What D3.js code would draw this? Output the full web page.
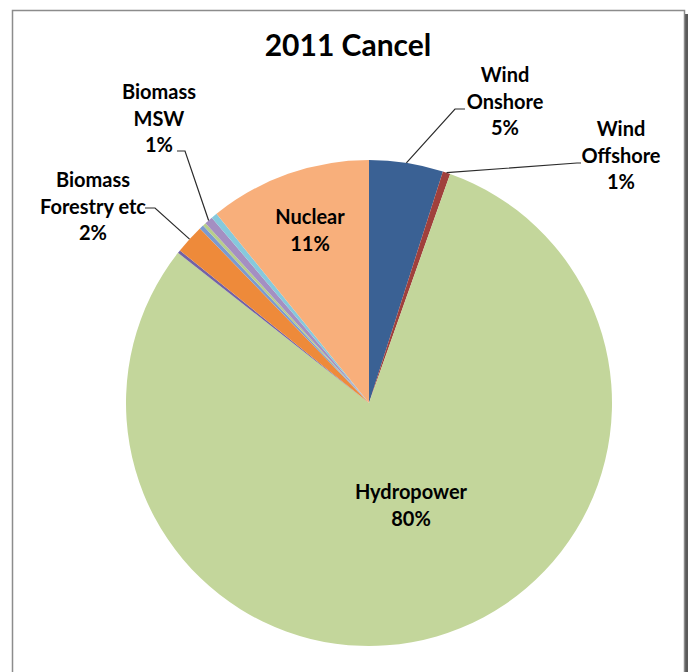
<!DOCTYPE html>
<html><head><meta charset="utf-8">
<script src="https://cdn.jsdelivr.net/npm/d3@7"></script>
<style>
html,body{margin:0;padding:0;background:#fff;}
svg{display:block;}
text{font-family:Lato,"Open Sans",sans-serif;font-weight:bold;fill:#000;}
</style></head>
<body>
<script>
// Data (share of total, %) in Excel clockwise order from 12 o'clock
const categories = ["Wind Onshore","Wind Offshore","Hydropower","Solar PV","Biomass Forestry etc","Biomass Landfill Gas","Biomass Sewage Gas","Biomass MSW","Biomass Co-firing","Nuclear"];
const values = [4.92, 0.5, 80.2, 0.2, 1.95, 0.28, 0.22, 0.55, 0.4, 10.8];
const colors = ["#3A6194","#A0403C","#C3D69B","#7262A6","#EE8A3A","#7C9AD0","#B7CE8A","#A48FC2","#86C9DC","#F8AF7B"];
const labelText = ["Wind|Onshore|5%","Wind|Offshore|1%","Hydropower|80%",null,"Biomass|Forestry etc|2%",null,null,"Biomass|MSW|1%",null,"Nuclear|11%"];
const title = "2011 Cancel";

const W = 688, H = 672;
const svg = d3.select("body").append("svg").attr("width", W).attr("height", H);

// frame + shadow
svg.append("rect").attr("x",685).attr("y",14).attr("width",3).attr("height",H).attr("fill","#5a5a5a");
svg.append("rect").attr("x",12.5).attr("y",10.5).attr("width",672).attr("height",H+20)
  .attr("fill","#fff").attr("stroke","#8c8c8c").attr("stroke-width",1.5);

svg.append("text").attr("x",348).attr("y",56).attr("text-anchor","middle")
  .style("font-size","30px").text(title);

const cx = 369, cy = 403, R = 243;
const g = svg.append("g").attr("transform",`translate(${cx},${cy})`);
const pie = d3.pie().sort(null).value(d => d)(values);
const arc = d3.arc().innerRadius(0).outerRadius(R);
g.selectAll("path").data(pie).join("path")
  .attr("d", arc).attr("fill", (d,i) => colors[i]);

// label layout (positions relative to chart) and leader lines
const labelPos = {
  0: {x:505, y:82, lead:[[455,109],[465,109]]},
  1: {x:621, y:136, lead:[[577,163],[581,163]]},
  2: {x:411, y:499},
  4: {x:93, y:187, lead:[[155,208],[145,208]]},
  7: {x:159, y:99, lead:[[185,151],[177,151]]},
  9: {x:310, y:224}
};
const lineH = 26.5;
Object.keys(labelPos).forEach(k => {
  const i = +k, p = labelPos[k];
  const lines = labelText[i].split("|");
  const t = svg.append("text").attr("text-anchor","middle").style("font-size","20px");
  lines.forEach((s,j) => t.append("tspan").attr("x",p.x).attr("y",p.y + j*lineH).text(s));
  if (p.lead) {
    const a = (pie[i].startAngle + pie[i].endAngle)/2;
    const start = [cx + R*Math.sin(a), cy - R*Math.cos(a)];
    svg.append("path").attr("d", d3.line()([start, ...p.lead]))
      .attr("fill","none").attr("stroke","#2b2b2b").attr("stroke-width",1.2);
  }
});
</script>
</body></html>
